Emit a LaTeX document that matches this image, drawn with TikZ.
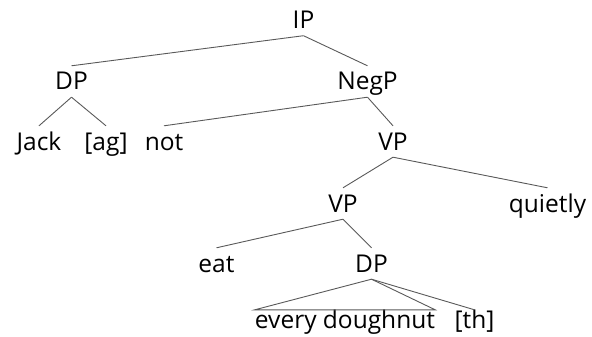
\documentclass[tikz,border=0pt]{standalone}
\usepackage{fontspec}
\setmainfont{Open Sans}
\begin{document}
\begin{tikzpicture}[x=1pt,y=-1pt,
  lbl/.style={anchor=base, inner xsep=0pt, inner ysep=7pt,
    text height=17pt, text depth=0pt,
    font=\fontsize{24.5}{29}\selectfont},
  leaf/.style={lbl, inner ysep=1pt},
  branch/.style={draw=black!65, line width=0.9pt}]
\useasboundingbox (0,0) rectangle (592,337);
% labels, placed on their baselines
\node[lbl] (ip)    at (303.5,28.5) {IP};
\node[lbl] (dp)    at (71.5,90)    {DP};
\node[lbl] (negp)  at (367.5,90)   {NegP};
\node[lbl] (jack)  at (39,150)     {Jack};
\node[lbl] (ag)    at (106,150)    {[ag]};
\node[lbl] (nt)    at (164,150)    {not};
\node[lbl] (vpa)   at (393,150)    {VP};
\node[lbl] (vpb)   at (343,212)    {VP};
\node[lbl] (qt)    at (547.5,212)  {quietly};
\node[lbl] (eat)   at (216.5,272)  {eat};
\node[lbl] (dpb)   at (371.5,272)  {DP};
\node[leaf] (ed)   at (345,328)    {every doughnut};
\node[leaf] (th)   at (474.5,328)  {[th]};
% branches
\draw[branch] (ip.south) -- (dp.north);
\draw[branch] (ip.south) -- (negp.north);
\draw[branch] (dp.south) -- (jack.north);
\draw[branch] (dp.south) -- (ag.north);
\draw[branch] (negp.south) -- (nt.north);
\draw[branch] (negp.south) -- (vpa.north);
\draw[branch] (vpa.south) -- (vpb.north);
\draw[branch] (vpa.south) -- (qt.north);
\draw[branch] (vpb.south) -- (eat.north);
\draw[branch] (vpb.south) -- (dpb.north);
\draw[branch] (dpb.south) -- (ed.north west) -- (ed.north east) -- cycle;
\draw[branch] (dpb.south) -- (th.north);
\end{tikzpicture}
\end{document}
